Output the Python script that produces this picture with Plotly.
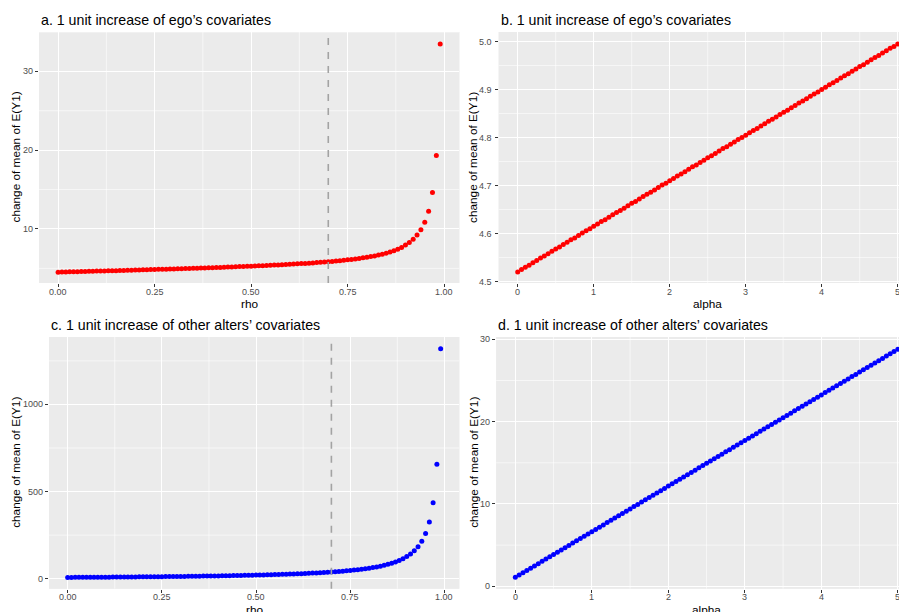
import plotly.graph_objects as go

# ---------------- data ----------------
rho = [0.00, 0.01, 0.02, 0.03, 0.04, 0.05, 0.06, 0.07, 0.08, 0.09,
       0.10, 0.11, 0.12, 0.13, 0.14, 0.15, 0.16, 0.17, 0.18, 0.19,
       0.20, 0.21, 0.22, 0.23, 0.24, 0.25, 0.26, 0.27, 0.28, 0.29,
       0.30, 0.31, 0.32, 0.33, 0.34, 0.35, 0.36, 0.37, 0.38, 0.39,
       0.40, 0.41, 0.42, 0.43, 0.44, 0.45, 0.46, 0.47, 0.48, 0.49,
       0.50, 0.51, 0.52, 0.53, 0.54, 0.55, 0.56, 0.57, 0.58, 0.59,
       0.60, 0.61, 0.62, 0.63, 0.64, 0.65, 0.66, 0.67, 0.68, 0.69,
       0.70, 0.71, 0.72, 0.73, 0.74, 0.75, 0.76, 0.77, 0.78, 0.79,
       0.80, 0.81, 0.82, 0.83, 0.84, 0.85, 0.86, 0.87, 0.88, 0.89,
       0.90, 0.91, 0.92, 0.93, 0.94, 0.95, 0.96, 0.97, 0.98, 0.99]

ego_rho = [4.52, 4.54, 4.55, 4.56, 4.57, 4.58, 4.60, 4.61, 4.62, 4.64,
           4.65, 4.66, 4.67, 4.69, 4.70, 4.71, 4.73, 4.74, 4.75, 4.77,
           4.78, 4.80, 4.81, 4.82, 4.84, 4.85, 4.87, 4.88, 4.90, 4.91,
           4.93, 4.94, 4.96, 4.97, 4.99, 5.00, 5.02, 5.04, 5.05, 5.07,
           5.09, 5.11, 5.12, 5.14, 5.16, 5.18, 5.20, 5.22, 5.24, 5.26,
           5.28, 5.30, 5.32, 5.34, 5.36, 5.39, 5.41, 5.43, 5.46, 5.48,
           5.51, 5.54, 5.57, 5.60, 5.63, 5.66, 5.69, 5.73, 5.76, 5.80,
           5.84, 5.88, 5.93, 5.97, 6.02, 6.08, 6.13, 6.19, 6.26, 6.33,
           6.41, 6.49, 6.58, 6.68, 6.80, 6.93, 7.07, 7.23, 7.43, 7.65,
           7.95, 8.28, 8.70, 9.22, 9.90, 10.86, 12.25, 14.62, 19.33, 33.47]

alters_rho = [7.3, 7.4, 7.5, 7.7, 7.8, 8.0, 8.1, 8.3, 8.4, 8.6,
              8.7, 8.9, 9.1, 9.2, 9.4, 9.6, 9.8, 10.0, 10.2, 10.4,
              10.6, 10.8, 11.0, 11.2, 11.4, 11.7, 11.9, 12.2, 12.4, 12.7,
              12.9, 13.2, 13.5, 13.8, 14.1, 14.4, 14.7, 15.0, 15.4, 15.7,
              16.1, 16.5, 16.9, 17.3, 17.7, 18.1, 18.6, 19.0, 19.5, 20.0,
              20.5, 21.1, 21.6, 22.2, 22.8, 23.5, 24.1, 24.8, 25.6, 26.3,
              27.2, 28.0, 28.9, 29.8, 30.8, 31.9, 33.0, 34.2, 35.4, 36.8,
              38.2, 39.7, 41.4, 43.1, 45.0, 47.0, 49.3, 51.7, 54.3, 57.1,
              60.3, 63.8, 67.7, 72.0, 76.9, 82.4, 88.7, 96.0, 104.5, 114.5,
              126.6, 141.3, 159.8, 183.4, 215.0, 259.2, 325.5, 436.0, 657.0, 1320.0]

alpha = [0.00, 0.05, 0.10, 0.15, 0.20, 0.25, 0.30, 0.35, 0.40, 0.45,
         0.50, 0.55, 0.60, 0.65, 0.70, 0.75, 0.80, 0.85, 0.90, 0.95,
         1.00, 1.05, 1.10, 1.15, 1.20, 1.25, 1.30, 1.35, 1.40, 1.45,
         1.50, 1.55, 1.60, 1.65, 1.70, 1.75, 1.80, 1.85, 1.90, 1.95,
         2.00, 2.05, 2.10, 2.15, 2.20, 2.25, 2.30, 2.35, 2.40, 2.45,
         2.50, 2.55, 2.60, 2.65, 2.70, 2.75, 2.80, 2.85, 2.90, 2.95,
         3.00, 3.05, 3.10, 3.15, 3.20, 3.25, 3.30, 3.35, 3.40, 3.45,
         3.50, 3.55, 3.60, 3.65, 3.70, 3.75, 3.80, 3.85, 3.90, 3.95,
         4.00, 4.05, 4.10, 4.15, 4.20, 4.25, 4.30, 4.35, 4.40, 4.45,
         4.50, 4.55, 4.60, 4.65, 4.70, 4.75, 4.80, 4.85, 4.90, 4.95,
         5.00]

ego_alpha = [4.520, 4.525, 4.530, 4.534, 4.539, 4.544, 4.549, 4.553, 4.558, 4.563,
             4.568, 4.572, 4.577, 4.582, 4.587, 4.591, 4.596, 4.601, 4.606, 4.610,
             4.615, 4.620, 4.625, 4.629, 4.634, 4.639, 4.644, 4.648, 4.653, 4.658,
             4.663, 4.667, 4.672, 4.677, 4.682, 4.686, 4.691, 4.696, 4.701, 4.705,
             4.710, 4.715, 4.720, 4.724, 4.729, 4.734, 4.739, 4.743, 4.748, 4.753,
             4.758, 4.762, 4.767, 4.772, 4.777, 4.781, 4.786, 4.791, 4.796, 4.800,
             4.805, 4.810, 4.815, 4.819, 4.824, 4.829, 4.834, 4.838, 4.843, 4.848,
             4.853, 4.857, 4.862, 4.867, 4.872, 4.876, 4.881, 4.886, 4.891, 4.895,
             4.900, 4.905, 4.910, 4.914, 4.919, 4.924, 4.929, 4.933, 4.938, 4.943,
             4.948, 4.952, 4.957, 4.962, 4.967, 4.971, 4.976, 4.981, 4.986, 4.990,
             4.995]

alters_alpha = [1.09, 1.37, 1.64, 1.92, 2.20, 2.48, 2.75, 3.03, 3.31, 3.58,
                3.86, 4.14, 4.41, 4.69, 4.97, 5.25, 5.52, 5.80, 6.08, 6.35,
                6.63, 6.91, 7.18, 7.46, 7.74, 8.02, 8.29, 8.57, 8.85, 9.12,
                9.40, 9.68, 9.95, 10.23, 10.51, 10.79, 11.06, 11.34, 11.62, 11.89,
                12.17, 12.45, 12.72, 13.00, 13.28, 13.56, 13.83, 14.11, 14.39, 14.66,
                14.94, 15.22, 15.49, 15.77, 16.05, 16.33, 16.60, 16.88, 17.16, 17.43,
                17.71, 17.99, 18.26, 18.54, 18.82, 19.10, 19.37, 19.65, 19.93, 20.20,
                20.48, 20.76, 21.03, 21.31, 21.59, 21.87, 22.14, 22.42, 22.70, 22.97,
                23.25, 23.53, 23.80, 24.08, 24.36, 24.64, 24.91, 25.19, 25.47, 25.74,
                26.02, 26.30, 26.57, 26.85, 27.13, 27.41, 27.68, 27.96, 28.24, 28.51,
                28.79]

rho_ref = 0.7

rho_ticks = [0, 0.25, 0.5, 0.75, 1.0]
rho_labels = ["0.00", "0.25", "0.50", "0.75", "1.00"]
alpha_ticks = [0, 1, 2, 3, 4, 5]
alpha_labels = ["0", "1", "2", "3", "4", "5"]
ya_ticks, ya_labels = [10, 20, 30], ["10", "20", "30"]
yb_ticks, yb_labels = [4.5, 4.6, 4.7, 4.8, 4.9, 5.0], ["4.5", "4.6", "4.7", "4.8", "4.9", "5.0"]
yc_ticks, yc_labels = [0, 500, 1000], ["0", "500", "1000"]
yd_ticks, yd_labels = [0, 10, 20, 30], ["0", "10", "20", "30"]

titles = ["a. 1 unit increase of ego\u2019s covariates",
          "b. 1 unit increase of ego\u2019s covariates",
          "c. 1 unit increase of other alters\u2019 covariates",
          "d. 1 unit increase of other alters\u2019 covariates"]
ytitle = "change of mean of E(Y1)"

# ---------------- layout helpers ----------------
OFF = 8                      # page body margin of the html page
W, H = 907 - OFF, 612 - OFF  # figure fits exactly in the window
FONT = "Liberation Sans, Arial, Helvetica, sans-serif"
BG = "#EBEBEB"
TICKCOL = "#4D4D4D"


def fx(p):
    """page pixel x -> paper fraction"""
    return (p - OFF) / W


def fy(p):
    """page pixel y -> paper fraction"""
    return 1 - (p - OFF) / H


fig = go.Figure()

panels = [
    dict(x=rho, y=ego_rho, c="#FF0000", xd=(39, 459.3), yd=(32, 283),
         xr=[-0.0495, 1.0395], yr=[3.14, 35.0],
         xt=rho_ticks, xl=rho_labels, yt=ya_ticks, yl=ya_labels,
         ym=[5, 15, 25, 35], xm=[0.125, 0.375, 0.625, 0.875], xtitle="rho"),
    dict(x=alpha, y=ego_alpha, c="#FF0000", xd=(498.7, 907), yd=(32, 283),
         xr=[-0.25, 5.122], yr=[4.497, 5.020],
         xt=alpha_ticks, xl=alpha_labels, yt=yb_ticks, yl=yb_labels,
         ym=[4.55, 4.65, 4.75, 4.85, 4.95], xm=[0.5, 1.5, 2.5, 3.5, 4.5], xtitle="alpha"),
    dict(x=rho, y=alters_rho, c="#0000FF", xd=(49, 459.3), yd=(337, 588.7),
         xr=[-0.0495, 1.0395], yr=[-57.5, 1387],
         xt=rho_ticks, xl=rho_labels, yt=yc_ticks, yl=yc_labels,
         ym=[250, 750, 1250], xm=[0.125, 0.375, 0.625, 0.875], xtitle="rho"),
    dict(x=alpha, y=alters_alpha, c="#0000FF", xd=(496.2, 907), yd=(337, 588.7),
         xr=[-0.25, 5.12], yr=[-0.29, 30.28],
         xt=alpha_ticks, xl=alpha_labels, yt=yd_ticks, yl=yd_labels,
         ym=[5, 15, 25], xm=[0.5, 1.5, 2.5, 3.5, 4.5], xtitle="alpha"),
]

shapes = []
annotations = []
for i, p in enumerate(panels, start=1):
    sx = "" if i == 1 else str(i)
    xa, ya = "x" + sx, "y" + sx
    shapes.append(dict(type="rect", xref=xa + " domain", yref=ya + " domain",
                       x0=0, x1=1, y0=0, y1=1, fillcolor=BG, line=dict(width=0),
                       layer="below"))
    for v in p["xm"]:
        shapes.append(dict(type="line", xref=xa, yref=ya + " domain", x0=v, x1=v,
                           y0=0, y1=1, line=dict(color="white", width=0.6), layer="below"))
    for v in p["ym"]:
        shapes.append(dict(type="line", xref=xa + " domain", yref=ya, x0=0, x1=1,
                           y0=v, y1=v, line=dict(color="white", width=0.6), layer="below"))

    fig.add_trace(go.Scatter(x=p["x"], y=p["y"], mode="markers",
                             marker=dict(color=p["c"], size=5, line=dict(width=0)),
                             xaxis=xa, yaxis=ya, showlegend=False, hoverinfo="x+y"))

    axcommon = dict(showline=False, zeroline=False, showgrid=True, gridcolor="white",
                    gridwidth=1.1, ticks="outside", ticklen=3, tickwidth=1,
                    tickcolor="#333333", showticklabels=False, fixedrange=True)
    fig.layout["xaxis" + sx] = dict(
        domain=[max(0, fx(p["xd"][0])), min(1, fx(p["xd"][1]))], range=p["xr"],
        autorange=False, anchor=ya, tickmode="array", tickvals=p["xt"], **axcommon)
    fig.layout["yaxis" + sx] = dict(
        domain=[fy(p["yd"][1]), fy(p["yd"][0])], range=p["yr"], autorange=False,
        anchor=xa, tickmode="array", tickvals=p["yt"], **axcommon)

    # tick labels (ggplot-like spacing)
    for v, lab in zip(p["xt"], p["xl"]):
        annotations.append(dict(text=lab, xref=xa, yref="paper", x=v,
                                y=fy(p["yd"][1] + 8.5), xanchor="center",
                                yanchor="middle", showarrow=False,
                                font=dict(family=FONT, size=9, color=TICKCOL)))
    for v, lab in zip(p["yt"], p["yl"]):
        annotations.append(dict(text=lab, xref="paper", yref=ya,
                                x=fx(p["xd"][0] - 4.5), y=v, xanchor="right",
                                yanchor="middle", showarrow=False,
                                font=dict(family=FONT, size=9, color=TICKCOL)))

    annotations.append(dict(text=titles[i - 1], xref="paper", yref="paper",
                            x=fx(p["xd"][0]), y=fy(p["yd"][0] - 12), xanchor="left",
                            yanchor="middle", showarrow=False,
                            font=dict(family=FONT, size=14.2, color="black")))
    ytx = 16 if i in (1, 3) else (473.5 if i == 2 else 474)
    annotations.append(dict(text=ytitle, xref="paper", yref="paper",
                            x=fx(ytx), y=fy((p["yd"][0] + p["yd"][1]) / 2),
                            xanchor="center", yanchor="middle", textangle=-90,
                            showarrow=False, font=dict(family=FONT, size=11.8, color="black")))
    xcen = (p["xd"][0] + (p["xd"][1] if i in (1, 3) else 916.7)) / 2
    annotations.append(dict(text=p["xtitle"], xref="paper",
                            yref="paper", x=fx(xcen), y=fy(p["yd"][1] + 21),
                            xanchor="center", yanchor="middle", showarrow=False,
                            font=dict(family=FONT, size=11.8, color="black")))

for ax in ("", "3"):
    shapes.append(dict(type="line", xref="x" + ax, yref=("y" + ax) + " domain",
                       x0=rho_ref, x1=rho_ref, y0=0, y1=1,
                       line=dict(color="#A3A3A3", width=1.6, dash="7px,7px"),
                       layer="above"))

fig.update_layout(width=W, height=H, margin=dict(l=0, r=0, t=0, b=0),
                  paper_bgcolor="white", plot_bgcolor=BG, shapes=shapes,
                  annotations=annotations, font=dict(family=FONT))

fig.write_html("out.html")
